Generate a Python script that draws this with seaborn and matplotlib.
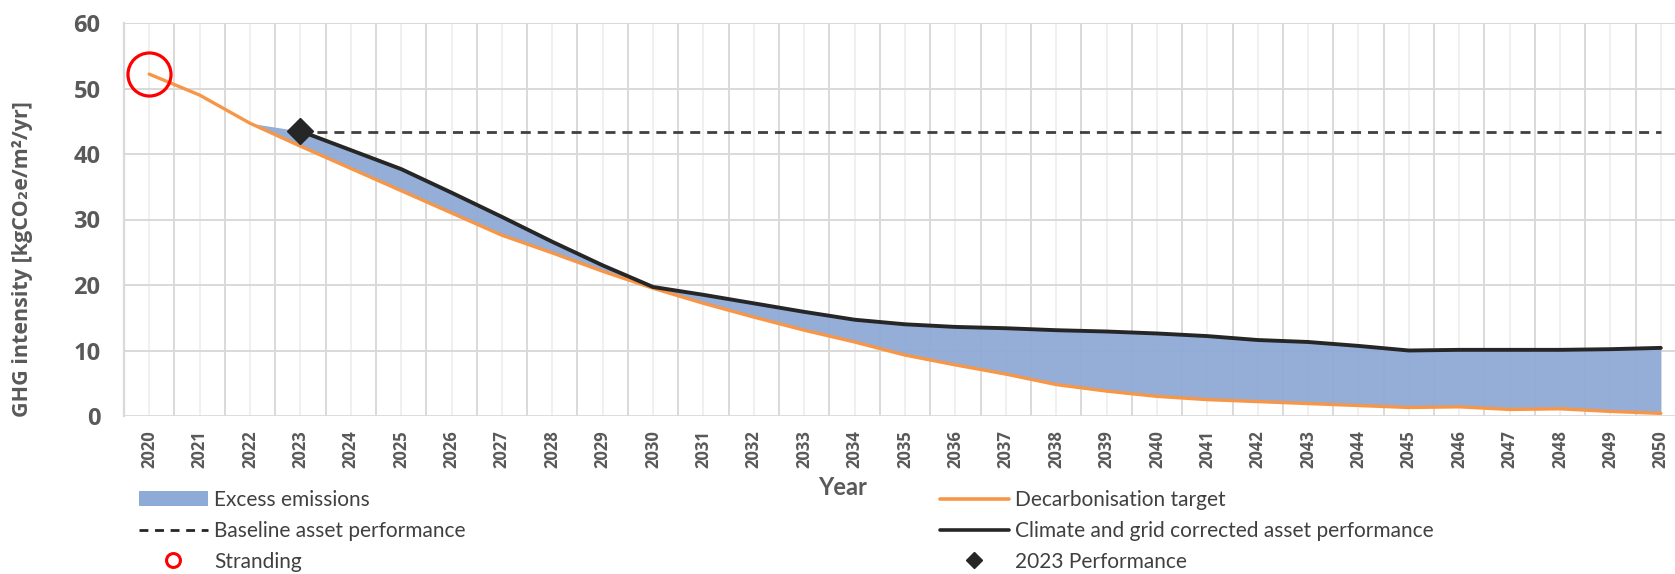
import matplotlib
matplotlib.use("Agg")
import matplotlib.pyplot as plt
from matplotlib.lines import Line2D
from matplotlib.patches import Patch
import seaborn as sns
import pandas as pd

years = list(range(2020, 2051))
target = [52.2, 49.0, 44.7, 41.2, 37.8, 34.4, 31.0, 27.6, 24.9, 22.1, 19.5,
          17.2, 15.1, 13.1, 11.3, 9.3, 7.8, 6.4, 4.8, 3.8, 3.0,
          2.5, 2.2, 1.9, 1.6, 1.3, 1.4, 1.0, 1.1, 0.7, 0.4]

perf_years = list(range(2023, 2051))
corrected = [43.5, 40.6, 37.7, 34.1, 30.4, 26.6, 23.0, 19.7,
             18.5, 17.2, 15.9, 14.7, 14.0, 13.6, 13.4, 13.1, 12.9, 12.6,
             12.2, 11.6, 11.3, 10.7, 10.0, 10.1, 10.1, 10.1, 10.2, 10.4]

baseline_value = 43.4
stranding_year, stranding_value = 2020, 52.2
perf_2023 = 43.5

df_target = pd.DataFrame({"year": years, "value": target})
df_corr = pd.DataFrame({"year": perf_years, "value": corrected})

# excess area: from 2022 (where it meets the target) to 2050
area_years = [2022] + perf_years
area_top = [target[2]] + corrected
area_base = target[2:]

sns.set_theme(style="white")
plt.rcParams["font.family"] = ["Open Sans", "DejaVu Sans"]

fig = plt.figure(figsize=(16.75, 5.74), dpi=100)
ax = fig.add_axes([124 / 1675, 158 / 574, (1686 - 124) / 1675, 393 / 574])

grid_c = "#d9d9d9"
# gridlines: between categories (darker) and at categories (lighter)
for x in range(2019, 2051):
    ax.axvline(x + 0.5, color=grid_c, lw=1.4, zorder=0)
for x in years:
    ax.axvline(x, color="#f0f0f0", lw=1.4, zorder=0)
for y in range(10, 61, 10):
    ax.axhline(y, color=grid_c, lw=1.4, zorder=0)
ax.axhline(0, color=grid_c, lw=2, zorder=0.5)

ax.fill_between(area_years, area_base, area_top, color="#8eaad6", alpha=0.95,
                lw=0, zorder=1)

ax.plot([2023, 2050], [baseline_value, baseline_value], color="#404040",
        lw=2, dashes=(3.6, 2.5), zorder=2)

sns.lineplot(data=df_target, x="year", y="value", ax=ax, color="#f79646",
             lw=2.4, zorder=3)
sns.lineplot(data=df_corr, x="year", y="value", ax=ax, color="#262626",
             lw=2.8, zorder=4)

ax.plot([2023], [perf_2023], marker="D", ms=13, color="#262626", zorder=5)
ax.plot([stranding_year], [stranding_value], marker="o", ms=31, mfc="none",
        mec="#ff0000", mew=2.3, zorder=6)

ax.set_xlim(2019.5, 2050.5)
ax.set_ylim(0, 60)
ax.set_xticks(years)
ax.set_xticklabels([str(y) for y in years], rotation=90, fontsize=12,
                   fontweight="bold", color="#595959")
ax.set_yticks(range(0, 61, 10))
ax.set_yticklabels([str(v) for v in range(0, 61, 10)], fontsize=17,
                   fontweight="bold", color="#595959")
ax.tick_params(axis="x", length=0, pad=10)
ax.tick_params(axis="y", length=0, pad=17)
for s in ax.spines.values():
    s.set_visible(False)
ax.spines["left"].set_visible(True)
ax.spines["left"].set_color(grid_c)
ax.spines["left"].set_linewidth(1.6)

ax.set_xlabel("")
ax.set_ylabel("GHG intensity [kgCO₂e/m²/yr]", fontsize=15.5, fontweight="bold",
              color="#595959")
ax.yaxis.set_label_coords(-0.058, 0.40)
ax.text(0.46, -0.183, "Year", transform=ax.transAxes, ha="center",
        va="center", fontsize=17, fontweight="bold", color="#595959",
        family=["Lato", "Open Sans", "DejaVu Sans"])

leg_font = {"family": ["Lato", "DejaVu Sans"], "size": 15}
left_handles = [
    Patch(facecolor="#8eaad6", edgecolor="none"),
    Line2D([], [], color="#262626", lw=2, dashes=(3.2, 2.4)),
    Line2D([], [], ls="none", marker="o", ms=10, mfc="none", mec="#ff0000", mew=2.2),
]
left_labels = ["Excess emissions", "Baseline asset performance", "Stranding"]
right_handles = [
    Line2D([], [], color="#f79646", lw=2.6),
    Line2D([], [], color="#262626", lw=2.6),
    Line2D([], [], ls="none", marker="D", ms=8, color="#262626"),
]
right_labels = ["Decarbonisation target",
                "Climate and grid corrected asset performance", "2023 Performance"]

for handles, labels, x0 in [(left_handles, left_labels, 139 / 1675),
                            (right_handles, right_labels, 940 / 1675)]:
    leg = fig.legend(handles, labels, loc="upper left",
                     bbox_to_anchor=(x0, 1 - 490 / 574), frameon=False,
                     prop=leg_font, handlelength=3.3, handletextpad=0.3,
                     labelspacing=0.52, borderpad=0, borderaxespad=0)
    for t in leg.get_texts():
        t.set_color("#404040")

fig.savefig("out.png", dpi=100)
